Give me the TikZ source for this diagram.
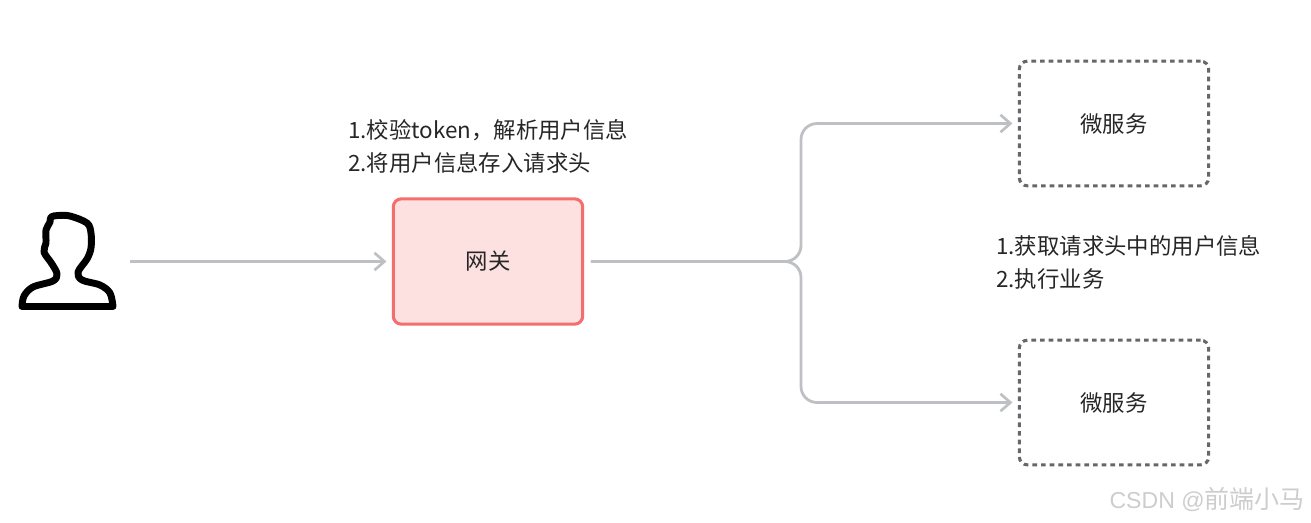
\documentclass[tikz,border=0pt]{standalone}
\usepackage{fontspec}
\setmainfont{Noto Sans CJK SC}
\newfontfamily\latinmark{Liberation Sans}
\usepackage{xcolor}
\usetikzlibrary{arrows.meta,calc,positioning}
\definecolor{ink}{HTML}{262626}
\definecolor{flow}{HTML}{BFC0C4}
\definecolor{gatered}{HTML}{F56E6E}
\definecolor{gatefill}{HTML}{FDE1E1}
\definecolor{svcline}{HTML}{66666B}
\definecolor{mark}{HTML}{CDCDCD}
\begin{document}
\begin{tikzpicture}[x=.75pt,y=-.75pt,>={Straight Barb[length=7.5pt,width=13pt,line width=2pt]},
  every node/.style={font=\fontsize{16.8pt}{24.75pt}\selectfont,text=ink},
  link/.style={->,flow,line width=2.1pt,shorten >=4pt,shorten <=5pt},
  gatebox/.style={draw=gatered,fill=gatefill,line width=2.3pt,rounded corners=6pt,minimum width=142pt,minimum height=94pt},
  svcbox/.style={draw=svcline,line width=2.3pt,dash pattern=on 3.5pt off 3pt,rounded corners=6pt,minimum width=142pt,minimum height=93.5pt},
  note/.style={align=left,anchor=west}]
\useasboundingbox (0,0) rectangle (1311,522);
\draw[line width=5.2pt,line join=round] plot[smooth,tension=.55] coordinates {(22,306.5) (24,296) (33,287) (53,281) (57,274) (52,264) (44,252) (46,243) (46,230) (50,222) (51,217) (58,215.5) (70,216) (87,223) (91,233) (91,248) (87,259) (78,272) (82,280) (100,285) (110,293) (113,306.5)} -- cycle;
\node[minimum width=84pt,minimum height=74pt,inner sep=0pt] (user) at (67,261.5) {};
\node[gatebox] (gateway) at (488,261.5) {\raisebox{-1pt}{网关}};
\node[svcbox] (svcA) at (1114,123.5) {\raisebox{-1.3pt}{微服务}};
\node[svcbox] (svcB) at (1114,402.5) {\raisebox{-1.3pt}{微服务}};
\coordinate (branch) at (801,261.5);
\draw[link] (user.east) -- (gateway.west);
\draw[link,rounded corners=12pt] (gateway.east) -- (branch) |- (svcA.west);
\draw[link,rounded corners=12pt] (gateway.east) -- (branch) |- (svcB.west);
\node[note] (gatenote) at (343.5,146) {1.校验token，解析用户信息\\2.将用户信息存入请求头};
\node[note] (svcnote) at (991.5,262.5) {1.获取请求头中的用户信息\\2.执行业务};
\node[anchor=east,inner sep=0pt,font=\fontsize{18.75pt}{22pt}\selectfont,text=mark] (csdn) at (1305,500) {{\latinmark\fontsize{17.3pt}{22pt}\selectfont CSDN @}前端小马};
\end{tikzpicture}
\end{document}
